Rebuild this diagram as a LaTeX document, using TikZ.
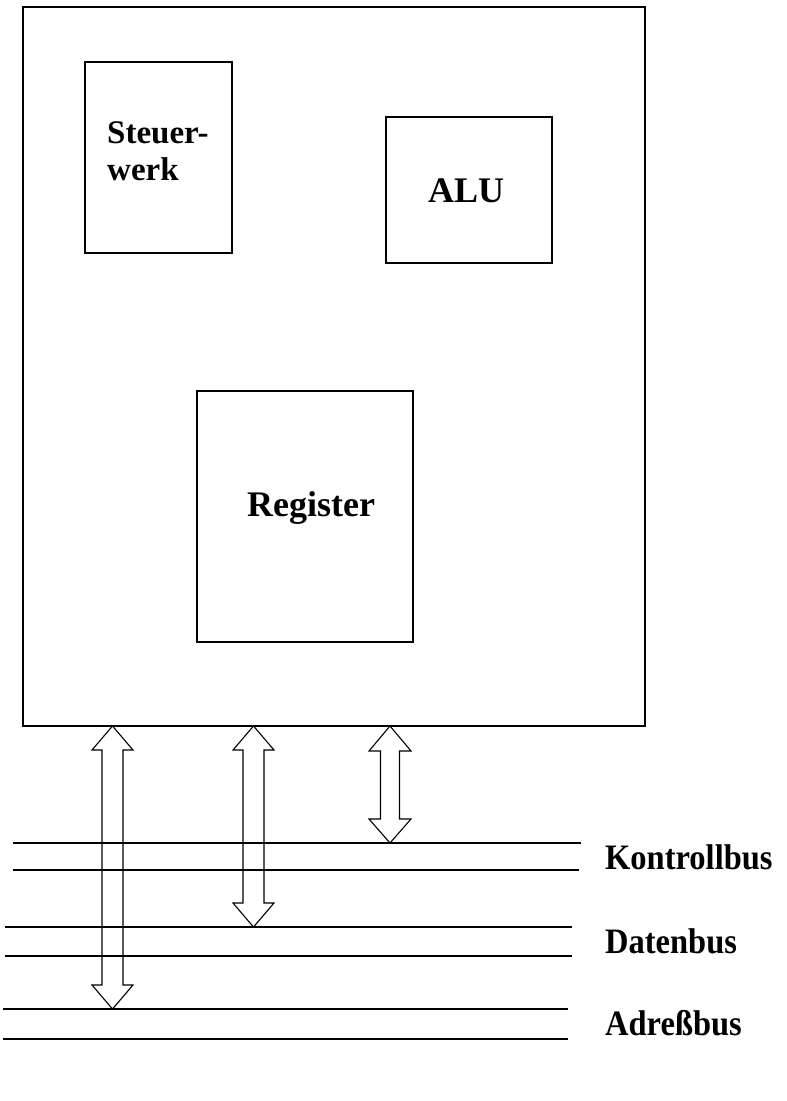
\documentclass[tikz,border=0pt]{standalone}
\usepackage{fontspec}
\setmainfont{Liberation Serif}
\begin{document}
\begin{tikzpicture}[x=1pt,y=-1pt,
  box/.style={draw, line width=1.1pt, inner sep=0pt, outer sep=0pt, anchor=north west},
  lbl/.style={anchor=base west, inner sep=0pt, font=\bfseries\fontsize{36}{40}\selectfont},
  buslbl/.style={anchor=base west, inner sep=0pt, font=\bfseries\fontsize{32.5}{36}\selectfont},
  busline/.style={line width=1.1pt},
  blockarrow/.style={draw, line width=1.1pt, line join=miter}]
\useasboundingbox (0,0) rectangle (787,1101);

% boxes
\node[box, minimum width=622pt, minimum height=719pt] (cpu) at (23,7) {};
\node[box, minimum width=147pt, minimum height=191pt] (sw) at (85,62) {};
\node[box, minimum width=166pt, minimum height=146pt] (alu) at (386,117) {};
\node[box, minimum width=216pt, minimum height=251pt] (reg) at (197,391) {};

% box texts
\node[lbl, font=\bfseries\fontsize{33}{37}\selectfont] (swt) at (107,143)
  {\vtop{\baselineskip=37pt\hbox{Steuer-}\hbox{werk}}};
\node[lbl] (alut) at (428,202) {ALU};
\node[lbl] (regt) at (247,516) {Register};

% bus lines
\coordinate (k1a) at (13,843);  \coordinate (k1b) at (581,843);
\coordinate (k2a) at (13,870);  \coordinate (k2b) at (579,870);
\coordinate (d1a) at (5,927);   \coordinate (d1b) at (572,927);
\coordinate (d2a) at (5,956);   \coordinate (d2b) at (572,956);
\coordinate (a1a) at (3,1009);  \coordinate (a1b) at (568,1009);
\coordinate (a2a) at (3,1039);  \coordinate (a2b) at (568,1039);
\draw[busline] (k1a) -- (k1b);
\draw[busline] (k2a) -- (k2b);
\draw[busline] (d1a) -- (d1b);
\draw[busline] (d2a) -- (d2b);
\draw[busline] (a1a) -- (a1b);
\draw[busline] (a2a) -- (a2b);

% bus labels
\node[buslbl] (kl) at (605,869) {\scalebox{1}[1.1]{Kontrollbus}};
\node[buslbl] (dl) at (605,953) {\scalebox{1}[1.1]{Datenbus}};
\node[buslbl] (al) at (605,1035) {\scalebox{1}[1.1]{Adreßbus}};

% arrow tips
\coordinate (t1) at (112.5,726); \coordinate (b1) at (112.5,1009);
\coordinate (t2) at (253.5,726); \coordinate (b2) at (253.5,927);
\coordinate (t3) at (390,726);   \coordinate (b3) at (390,843);

% Adressbus arrow (CPU -> Adressbus)
\draw[blockarrow] (t1) -- ++(20.5,24) -- ++(-10,0) |- ([xshift=10.5pt,yshift=24pt]b1)
  -- ++(10,0) -- (b1) -- ++(-20.5,-24) -- ++(10,0) |- ([xshift=-10.5pt,yshift=-24pt]t1)
  -- ++(-10,0) -- cycle;
% Datenbus arrow
\draw[blockarrow] (t2) -- ++(20.5,24) -- ++(-10,0) |- ([xshift=10.5pt,yshift=24pt]b2)
  -- ++(10,0) -- (b2) -- ++(-20.5,-24) -- ++(10,0) |- ([xshift=-10.5pt,yshift=-24pt]t2)
  -- ++(-10,0) -- cycle;
% Kontrollbus arrow (bidirectional)
\draw[blockarrow] (t3) -- ++(21,25) -- ++(-11.5,0) |- ([xshift=9.5pt,yshift=24pt]b3)
  -- ++(11.5,0) -- (b3) -- ++(-21,-24) -- ++(11.5,0) |- ([xshift=-9.5pt,yshift=-25pt]t3)
  -- ++(-11.5,0) -- cycle;
\end{tikzpicture}
\end{document}
